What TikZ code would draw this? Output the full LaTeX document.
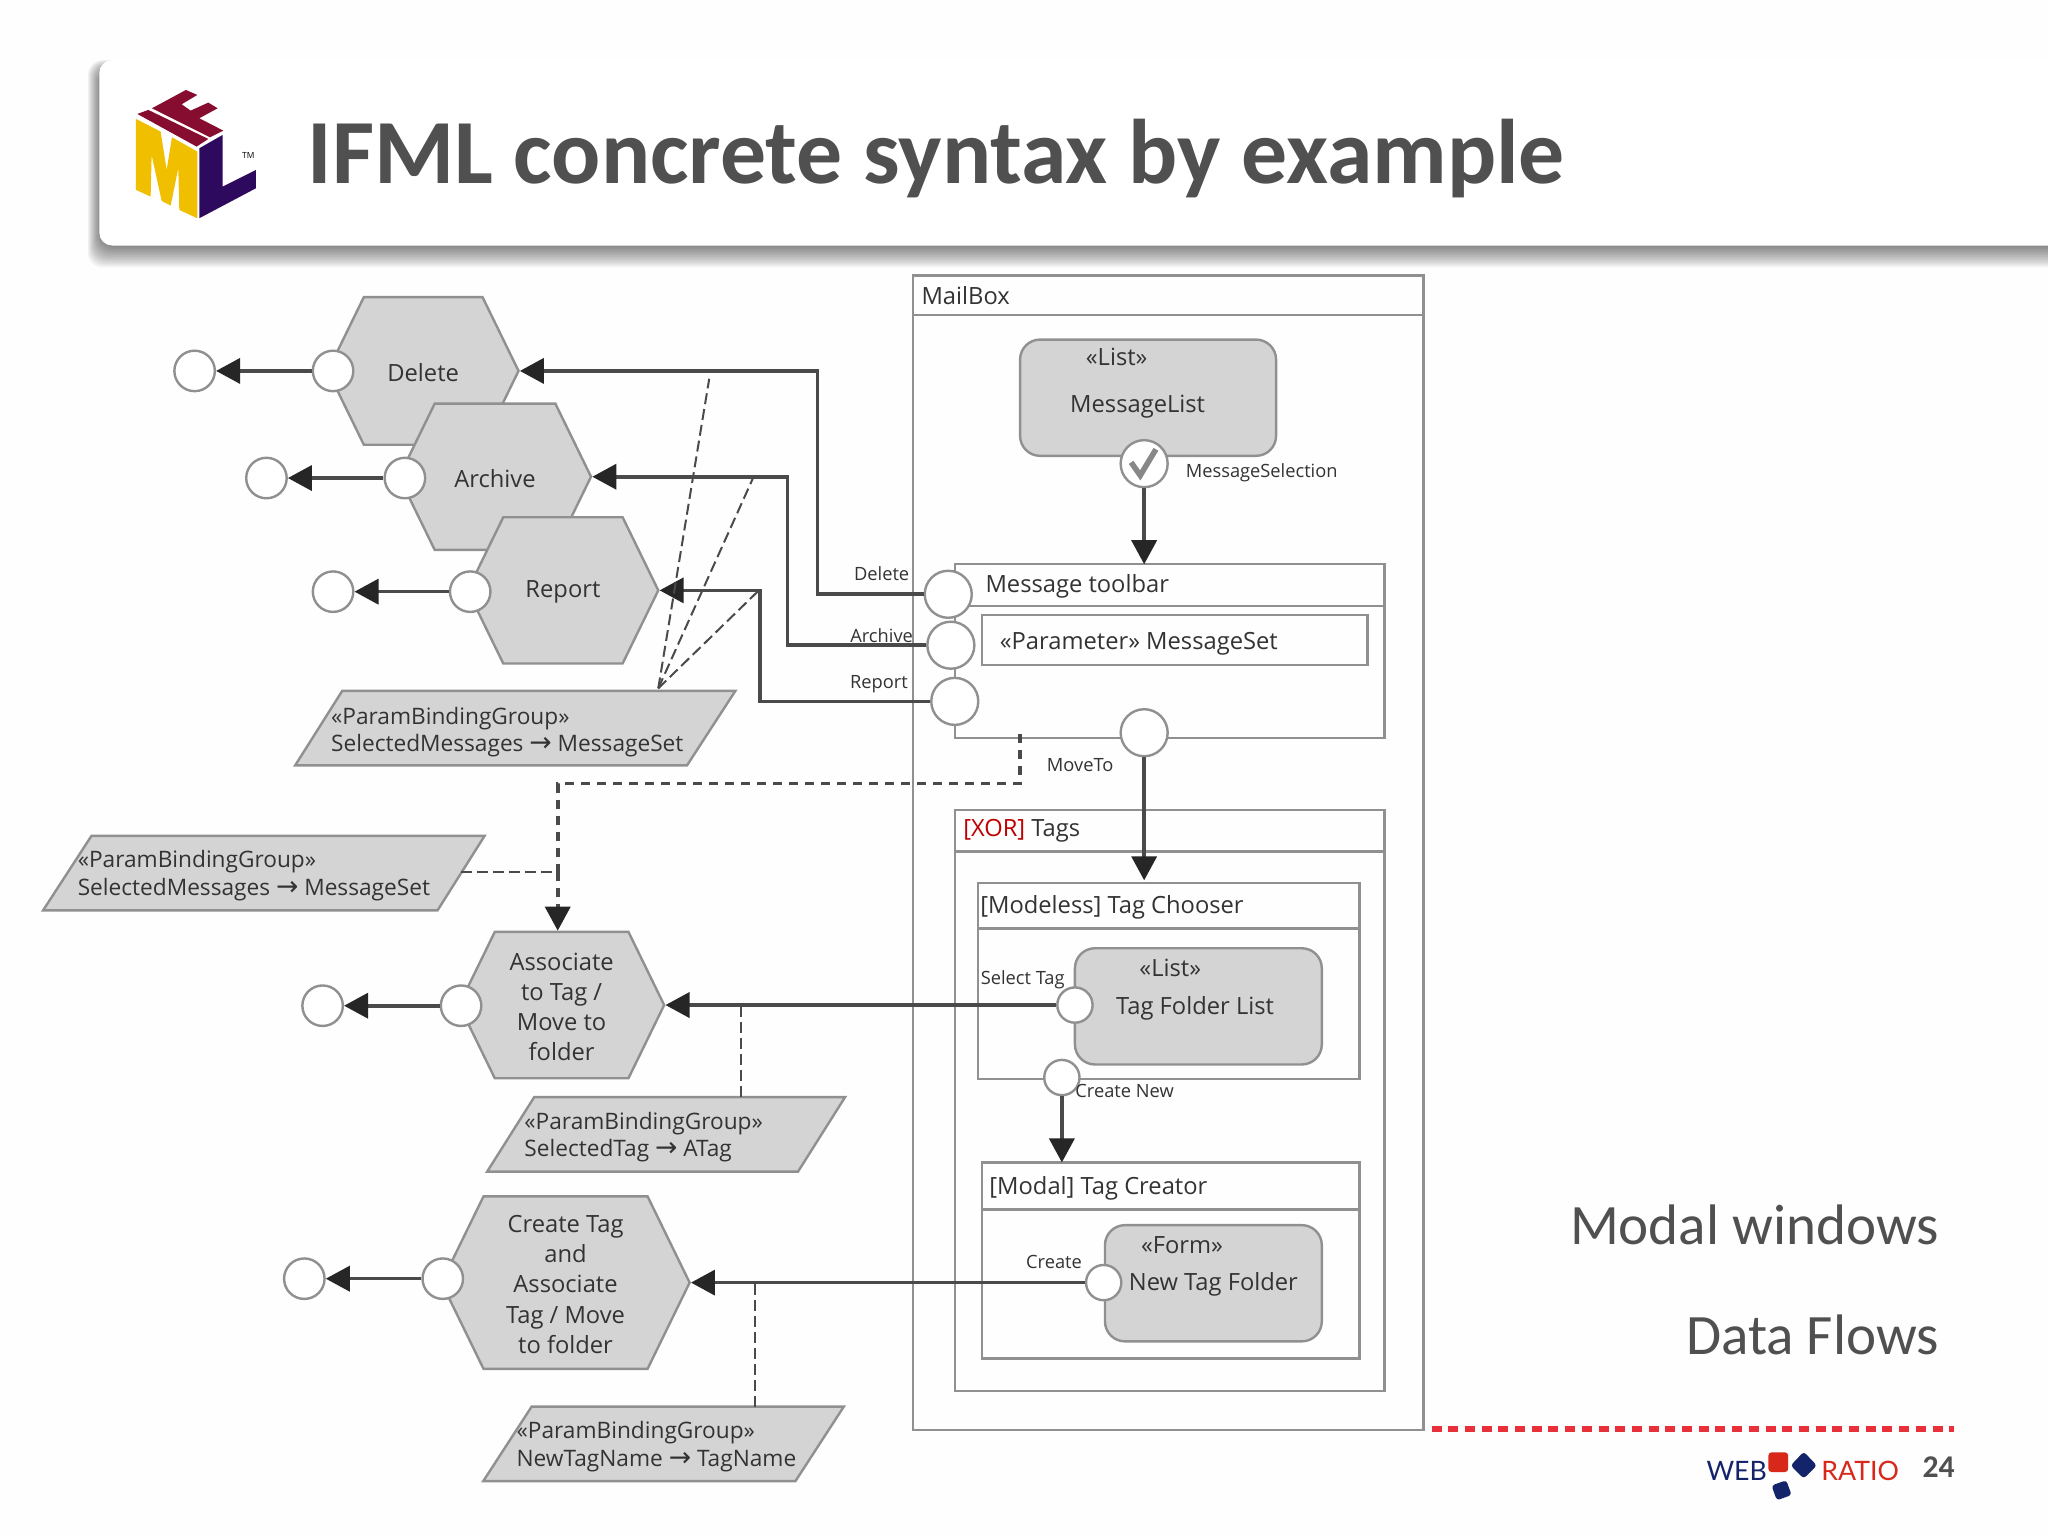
\documentclass[tikz,border=0pt]{standalone}
\usepackage{fontspec}
\usetikzlibrary{arrows.meta,shapes.geometric,shapes.symbols,calc}
\setmainfont{Open Sans}
\newfontfamily\titlefont{Carlito}
\newfontfamily\logofont{Lato}
\newfontfamily\arrowfont{DejaVu Sans}
\definecolor{boxline}{HTML}{909090}
\definecolor{boxfill}{HTML}{D4D4D4}
\definecolor{flowline}{HTML}{4A4A4A}
\definecolor{titlegray}{HTML}{505050}
\definecolor{txtgray}{HTML}{333333}
\definecolor{wrnavy}{HTML}{14246B}
\definecolor{wrred}{HTML}{D8281A}
\definecolor{logoY}{HTML}{F0C000}
\definecolor{logoP}{HTML}{2E0A5E}
\definecolor{logoR}{HTML}{860C30}
\definecolor{checkgray}{HTML}{888888}
\definecolor{dotred}{HTML}{E8303A}
\def\u{0.13061mm}
\def\ar{{\arrowfont\fontsize{7.6pt}{7pt}\selectfont →}}
\tikzset{
  size/.style 2 args={minimum width=#1*\u,minimum height=#2*\u},
  frame/.style={draw=boxline,line width=.24mm,inner sep=0,outer sep=0,anchor=north west},
  head/.style={draw=boxline,line width=.24mm},
  lst/.style={frame,fill=boxfill,rounded corners=2mm},
  hexa/.style={signal,signal to=east and west,draw=boxline,fill=boxfill,line width=.24mm,
    inner sep=0,signal pointer angle=128},
  htxt/.style={inner sep=0,yshift=-1.4*\u,text=txtgray,align=center,font=\fontsize{6.75pt}{8.6pt}\selectfont},
  para/.style={draw=boxline,fill=boxfill,line width=.24mm},
  port/.style={circle,draw=boxline,fill=white,line width=.24mm,inner sep=0,minimum size=31*\u},
  bigport/.style={port,minimum size=36*\u},
  smallport/.style={port,minimum size=27*\u},
  txt/.style={inner sep=0,anchor=west,yshift=-1*\u,text=txtgray,font=\fontsize{6.75pt}{8pt}\selectfont,align=left},
  ptxt/.style={txt,font=\fontsize{6.45pt}{7.8pt}\selectfont},
  ctxt/.style={txt,anchor=center,align=center},
  lab/.style={txt,anchor=center,font=\fontsize{5.2pt}{6pt}\selectfont},
  flow/.style={draw=flowline,line width=.36mm,-{Triangle[length=2.4mm,width=2.5mm,color=black!85]}},
  bind/.style={draw=flowline,line width=.2mm,dash pattern=on 1.1mm off .5mm},
  nav/.style={draw=flowline,line width=.36mm,dash pattern=on .9mm off .7mm},
}
\begin{document}
\begin{tikzpicture}[x=\u,y=-\u]
\useasboundingbox (0,0) rectangle (1568,1176);
\clip (0,0) rectangle (1568,1176);
\fill[white!99.5!black] (0,0) rectangle (1568,1176);

% title bar
\foreach \i in {0,...,14}
  \fill[black,opacity=.04,rounded corners=1.5mm] (77-.7*\i,53-.5*\i) rectangle (1600,188+1.2*\i);
\fill[white,rounded corners=1.3mm] (76,46) rectangle (1600,188);

% logo
\begin{scope}[shift={(61.25,30.6)},x=0.03333mm,y=-0.03333mm]
  \fill[logoY] (168,237)--(242,275)--(260,390)--(276,292)--(352,335)--(352,535)--(298,510)--(295,385)--(272,497)--(245,483)--(215,345)--(212,470)--(168,450)--cycle;
  \fill[logoP] (358,325)--(428,285)--(428,440)--(528,390)--(528,445)--(358,535)--cycle;
  \fill[logoR] (172,222)--(205,210)--(385,297)--(350,320)--cycle;
  \fill[logoR] (216,205)--(318,150)--(352,165)--(305,193)--(332,212)--(385,188)--(413,205)--(358,235)--(430,272)--(390,292)--cycle;
  \node[inner sep=0,font=\fontsize{2.4pt}{3pt}\selectfont] (tm) at (505,347) {TM};
\end{scope}

\node[inner sep=0,anchor=west,text=titlegray,font=\titlefont\bfseries\fontsize{26.1pt}{30pt}\selectfont] (title) at (235,121) {IFML concrete syntax by example};

% mailbox frames
\node[frame,size={391}{884}] (mailbox) at (699,211) {};
\draw[head] (699,241) -- (1090,241);
\node[txt] (mailboxT) at (705,225) {MailBox};
\node[lst,size={196}{89}] (msglist) at (781,260) {};
\node[ctxt] (msglistS) at (855,272) {«List»};
\node[ctxt] (msglistT) at (871,310) {MessageList};

\node[frame,size={329}{133}] (toolbar) at (731,432) {};
\draw[head] (731,464) -- (1060,464);
\node[txt] (toolbarT) at (754,448) {Message toolbar};
\node[frame,size={295}{38}] (param) at (752,471) {};
\node[txt] (paramT) at (765,492) {«Parameter» MessageSet};

\node[frame,size={329}{445}] (tags) at (731,620) {};
\draw[head] (731,652) -- (1060,652);
\node[txt] (tagsT) at (737,635) {\textcolor{red!75!black}{[XOR]} Tags};
\node[frame,size={292}{150}] (chooser) at (749,676) {};
\draw[head] (749,711) -- (1041,711);
\node[txt] (chooserT) at (750,694) {[Modeless] Tag Chooser};
\node[lst,size={189}{89}] (folders) at (823,726) {};
\node[ctxt] (foldersS) at (896,740) {«List»};
\node[ctxt] (foldersT) at (915,771) {Tag Folder List};

\node[frame,size={289}{150}] (creator) at (752,890) {};
\draw[head] (752,926) -- (1041,926);
\node[txt] (creatorT) at (757,909) {[Modal] Tag Creator};
\node[lst,size={166}{89}] (form) at (846,938) {};
\node[ctxt] (formS) at (905,952) {«Form»};
\node[ctxt] (formT) at (929,982) {New Tag Folder};

% actions
\node[hexa,size={146}{113}] (hDelete) at (324,284) {};
\node[htxt] (hDeleteT) at (hDelete) {Delete};
\node[hexa,size={147}{112}] (hArchive) at (379,365) {};
\node[htxt] (hArchiveT) at (hArchive) {Archive};
\node[hexa,size={146}{112}] (hReport) at (431,452) {};
\node[htxt] (hReportT) at (hReport) {Report};
\node[hexa,size={157}{112}] (hAssoc) at (430,769.5) {};
\node[htxt] (hAssocT) at (hAssoc) {Associate\\to Tag /\\Move to\\folder};
\node[hexa,size={190}{132}] (hCreate) at (433,982) {};
\node[htxt] (hCreateT) at (hCreate) {Create Tag\\and\\Associate\\Tag / Move\\to folder};

% binding groups
\draw[para] (262,529) -- (563,529) -- (526,586) -- (226,586) -- cycle;
\node[ptxt] (pSelT) at (253,559.5) {«ParamBindingGroup»\\SelectedMessages \ar{} MessageSet};
\draw[para] (70,640) -- (371,640) -- (335,697) -- (33,697) -- cycle;
\node[ptxt] (pSel2T) at (59,669.5) {«ParamBindingGroup»\\SelectedMessages \ar{} MessageSet};
\draw[para] (409,840) -- (647,840) -- (611,897) -- (373,897) -- cycle;
\node[ptxt] (pTagT) at (401,869.5) {«ParamBindingGroup»\\SelectedTag \ar{} ATag};
\draw[para] (407,1077) -- (646,1077) -- (609,1134) -- (370,1134) -- cycle;
\node[ptxt] (pNewT) at (395,1106.5) {«ParamBindingGroup»\\NewTagName \ar{} TagName};

% ports
\node[port] (oDelete) at (149,284) {};
\node[port] (pDelete) at (255,284) {};
\node[port] (oArchive) at (204,366) {};
\node[port] (pArchive) at (310,366) {};
\node[port] (oReport) at (255,453) {};
\node[port] (pReport) at (360,453) {};
\node[port] (oAssoc) at (247,770) {};
\node[port] (pAssoc) at (353,770) {};
\node[port] (oCreate) at (233,979) {};
\node[port] (pCreate) at (339,979) {};
\node[bigport] (evSel) at (876,355) {};
\draw[checkgray,line width=.55mm] (866,354)--(873,364)--(885,344);
\node[bigport] (evDelete) at (726,455) {};
\node[bigport] (evArchive) at (728,494) {};
\node[bigport] (evReport) at (731,537) {};
\node[bigport] (evMove) at (876,561) {};
\node[smallport] (evTag) at (823,769.5) {};
\node[smallport] (evNew) at (813,825) {};
\node[smallport] (evCreate) at (845,982) {};

% labels
\node[lab] (lSel) at (966,361) {MessageSelection};
\node[lab] (lDelete) at (675,438) {Delete};
\node[lab] (lArchive) at (675,486) {Archive};
\node[lab] (lReport) at (673,523) {Report};
\node[lab] (lMove) at (827,585) {MoveTo};
\node[lab] (lTag) at (783,749) {Select Tag};
\node[lab] (lNew) at (861,834) {Create New};
\node[lab] (lCreate) at (807,965) {Create};

% corners
\coordinate (c1a) at (626,455); \coordinate (c1b) at (626,284);
\coordinate (c2a) at (603,494); \coordinate (c2b) at (603,365);
\coordinate (c3a) at (582,537); \coordinate (c3b) at (582,452);
\coordinate (m0) at (781,562); \coordinate (m1) at (781,600); \coordinate (m2) at (427,600);
\coordinate (m3) at (427,668);
\coordinate (b0) at (504,527);
\coordinate (b1) at (543,290); \coordinate (b2) at (577,365); \coordinate (b3) at (580,453);
\coordinate (j1) at (567,770); \coordinate (j1b) at (567,840);
\coordinate (j2) at (578,983); \coordinate (j2b) at (578,1077);

% flows
\draw[flow] (pDelete) -- (oDelete);
\draw[flow] (pArchive) -- (oArchive);
\draw[flow] (pReport) -- (oReport);
\draw[flow] (pAssoc) -- (oAssoc);
\draw[flow] (pCreate) -- (oCreate);
\draw[flow] (evDelete) -- (c1a) -- (c1b) -- (hDelete.east);
\draw[flow] (evArchive) -- (c2a) -- (c2b) -- (hArchive.east);
\draw[flow] (evReport) -- (c3a) -- (c3b) -- (hReport.east);
\draw[flow] (evSel) -- (toolbar.north -| evSel);
\draw[flow] (evMove) -- (876,674);
\draw[flow] (evTag) -- (hAssoc.east);
\draw[flow] (evNew) -- (creator.north -| evNew);
\draw[flow] (evCreate) -- (hCreate.east);

% bindings
\draw[bind] (b0) -- (b1);
\draw[bind] (b0) -- (b2);
\draw[bind] (b0) -- (b3);
\draw[bind] (j1) -- (j1b);
\draw[bind] (j2) -- (j2b);
\draw[bind] (353,668) -- (m3);
\draw[nav] (m0) -- (m1) -- (m2) -- (m3);
\draw[nav,-{Triangle[length=2.4mm,width=2.5mm,color=black!85]}] (m3) -- (hAssoc.north -| m3);

% right side
\node[inner sep=0,anchor=east,text=titlegray,font=\titlefont\fontsize{16.25pt}{20pt}\selectfont] (modal) at (1485,938) {Modal windows};
\node[inner sep=0,anchor=east,text=titlegray,font=\titlefont\fontsize{16.25pt}{20pt}\selectfont] (flows) at (1485,1022) {Data Flows};

% footer
\draw[dotred,line width=.55mm,dash pattern=on 1mm off .67mm] (1096,1094) -- (1496,1094);
\node[inner sep=0,anchor=west,text=wrnavy,font=\logofont\fontsize{7.6pt}{9pt}\selectfont] (web) at (1306,1126) {WEB};
\node[inner sep=0,anchor=west,text=wrred,font=\logofont\fontsize{7.6pt}{9pt}\selectfont] (ratio) at (1394,1126) {RATIO};
\fill[wrred,rounded corners=.3mm] (1354,1112) rectangle (1369,1127);
\fill[wrnavy,rounded corners=.3mm] (1381,1111.5)--(1391,1122)--(1381,1132)--(1371,1122)--cycle;
\fill[wrnavy,rounded corners=.3mm,rotate around={20:(1364,1141)}] (1358,1135) rectangle (1370,1147);
\node[inner sep=0,anchor=east,text=titlegray,font=\titlefont\bfseries\fontsize{9pt}{11pt}\selectfont] (pageno) at (1497,1123) {24};
\end{tikzpicture}
\end{document}
